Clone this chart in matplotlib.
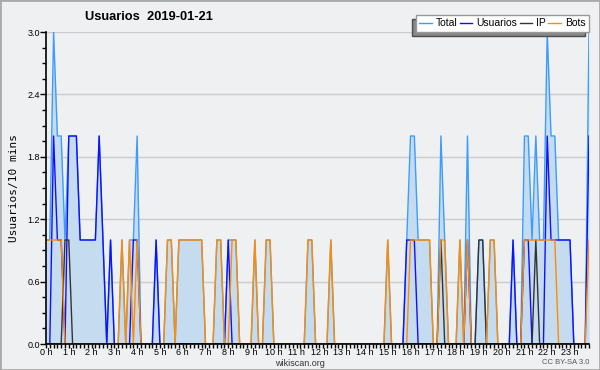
# Usuarios por 10 minutos - 2019-01-21 (wikiscan)

import matplotlib
matplotlib.use('Agg')
import matplotlib.pyplot as plt
import numpy as np

# valores cada 10 minutos, 6 por hora (0 h .. 23 h)
total = [
    1, 1, 3, 2, 2, 1,   2, 2, 2, 1, 1, 1,   1, 1, 2, 1, 0, 1,   0, 0, 1, 0, 1, 1,
    2, 0, 0, 0, 0, 1,   0, 0, 1, 1, 0, 1,   1, 1, 1, 1, 1, 1,   0, 0, 0, 1, 1, 0,
    1, 1, 1, 0, 0, 0,   0, 1, 0, 0, 1, 1,   0, 0, 0, 0, 0, 0,   0, 0, 0, 1, 1, 0,
    0, 0, 0, 1, 0, 0,   0, 0, 0, 0, 0, 0,   0, 0, 0, 0, 0, 0,   1, 0, 0, 0, 0, 1,
    2, 2, 1, 1, 1, 1,   0, 0, 2, 1, 0, 0,   0, 1, 0, 2, 0, 0,   1, 1, 0, 1, 1, 0,
    0, 0, 0, 1, 0, 0,   2, 2, 1, 2, 1, 1,   3, 2, 2, 1, 1, 1,   1, 0, 0, 0, 0, 3,
]
usuarios = [
    0, 0, 2, 1, 1, 0,   2, 2, 2, 1, 1, 1,   1, 1, 2, 1, 0, 1,   0, 0, 0, 0, 0, 1,
    1, 0, 0, 0, 0, 1,   0, 0, 0, 0, 0, 0,   0, 0, 0, 0, 0, 0,   0, 0, 0, 0, 0, 0,
    1, 0, 0, 0, 0, 0,   0, 0, 0, 0, 0, 0,   0, 0, 0, 0, 0, 0,   0, 0, 0, 0, 0, 0,
    0, 0, 0, 0, 0, 0,   0, 0, 0, 0, 0, 0,   0, 0, 0, 0, 0, 0,   0, 0, 0, 0, 0, 1,
    1, 1, 0, 0, 0, 0,   0, 0, 0, 0, 0, 0,   0, 0, 0, 1, 0, 0,   0, 0, 0, 0, 0, 0,
    0, 0, 0, 1, 0, 0,   1, 1, 0, 0, 0, 0,   2, 1, 1, 1, 1, 1,   1, 0, 0, 0, 0, 2,
]
ip = [
    0, 0, 0, 0, 0, 1,   1, 0, 0, 0, 0, 0,   0, 0, 0, 0, 0, 0,   0, 0, 0, 0, 0, 0,
    0, 0, 0, 0, 0, 0,   0, 0, 0, 0, 0, 0,   0, 0, 0, 0, 0, 0,   0, 0, 0, 0, 0, 0,
    0, 0, 0, 0, 0, 0,   0, 0, 0, 0, 0, 0,   0, 0, 0, 0, 0, 0,   0, 0, 0, 0, 0, 0,
    0, 0, 0, 0, 0, 0,   0, 0, 0, 0, 0, 0,   0, 0, 0, 0, 0, 0,   0, 0, 0, 0, 0, 0,
    0, 0, 0, 0, 0, 0,   0, 0, 1, 0, 0, 0,   0, 0, 0, 0, 0, 0,   1, 1, 0, 0, 0, 0,
    0, 0, 0, 0, 0, 0,   0, 0, 0, 1, 0, 0,   0, 0, 0, 0, 0, 0,   0, 0, 0, 0, 0, 0,
]
bots = [
    1, 1, 1, 1, 1, 0,   0, 0, 0, 0, 0, 0,   0, 0, 0, 0, 0, 0,   0, 0, 1, 0, 1, 0,
    1, 0, 0, 0, 0, 0,   0, 0, 1, 1, 0, 1,   1, 1, 1, 1, 1, 1,   0, 0, 0, 1, 1, 0,
    0, 1, 1, 0, 0, 0,   0, 1, 0, 0, 1, 1,   0, 0, 0, 0, 0, 0,   0, 0, 0, 1, 1, 0,
    0, 0, 0, 1, 0, 0,   0, 0, 0, 0, 0, 0,   0, 0, 0, 0, 0, 0,   1, 0, 0, 0, 0, 0,
    1, 1, 1, 1, 1, 1,   0, 0, 1, 1, 0, 0,   0, 1, 0, 1, 0, 0,   0, 0, 0, 1, 1, 0,
    0, 0, 0, 0, 0, 0,   1, 1, 1, 1, 1, 1,   1, 1, 1, 0, 0, 0,   0, 0, 0, 0, 0, 1,
]
hour_labels = ['%d h' % h for h in range(24)]
y_ticks = [0.0, 0.6, 1.2, 1.8, 2.4, 3.0]

bg = '#eff0f1'
font = 'Liberation Sans'
x = np.arange(len(total))

fig = plt.figure(figsize=(6, 3.7), dpi=100, facecolor=bg)
# borde gris alrededor de la figura
fig.patches.append(plt.Rectangle((0, 0), 1, 1, transform=fig.transFigure,
                                 fill=False, edgecolor='#aaaaaa', linewidth=2))
ax = fig.add_axes([46 / 600, 1 - 344 / 370, 543 / 600, 312 / 370], facecolor=bg)

# area del total + lineas
ax.fill_between(x, total, color='#c5dcf0', linewidth=0)
ax.plot(x, total, color='#3c9cff', linewidth=1, label='Total')
ax.plot(x, usuarios, color='#1010ff', linewidth=1, label='Usuarios')
ax.plot(x, ip, color='#333333', linewidth=1, label='IP')
ax.plot(x, bots, color='#ff8c00', linewidth=1, label='Bots')

ax.set_xlim(0, len(total) - 1)
ax.set_ylim(0, 3)

# ejes
for s in ['top', 'right']:
    ax.spines[s].set_visible(False)
ax.spines['left'].set_linewidth(1.2)
ax.spines['bottom'].set_linewidth(1.2)

ax.set_xticks(np.arange(0, 144, 6))
ax.set_xticklabels(hour_labels, family=font)
ax.set_xticks(np.arange(0, 144, 1), minor=True)
ax.set_yticks(y_ticks)
ax.set_yticklabels(['%.1f' % v for v in y_ticks], family=font)
ax.set_yticks(np.arange(0, 3.01, 0.15), minor=True)
ax.tick_params(axis='y', which='major', labelsize=6.5, length=4, width=1, pad=0.5)
ax.tick_params(axis='x', which='major', labelsize=6.5, length=3, width=1, pad=0)
ax.tick_params(axis='both', which='minor', length=3, width=1)
ax.grid(True, axis='y', which='major', color='#cccccc', linewidth=1)
ax.set_axisbelow(True)

ax.set_ylabel('Usuarios/10 mins', fontsize=8, family='DejaVu Sans Mono', labelpad=6)

# titulo y textos
fig.text(85 / 600, 1 - 17 / 370, 'Usuarios  2019-01-21', fontsize=9.3, family=font,
         fontweight='bold', va='center', ha='left')
fig.text(300 / 600, 1 - 364 / 370, 'wikiscan.org', fontsize=6.5, family=font,
         ha='center', va='center', color='#333333')
fig.text(589 / 600, 1 - 363 / 370, 'CC BY-SA 3.0', fontsize=5.5, family=font,
         ha='right', va='center', color='#555555')

leg = ax.legend(loc='lower right', bbox_to_anchor=(589 / 600, 1 - 32 / 370),
                bbox_transform=fig.transFigure, ncol=4,
                prop={'family': font, 'size': 7.5},
                frameon=True, fancybox=False, handlelength=1.2, handletextpad=0.4,
                columnspacing=0.2, borderpad=0.35, borderaxespad=0,
                shadow={'ox': -3, 'oy': -3, 'facecolor': '#888888', 'alpha': 1})
leg.get_frame().set_edgecolor('#999999')
leg.get_frame().set_facecolor('white')
leg.get_frame().set_linewidth(1)

plt.savefig('out.png', dpi=100, facecolor=bg)
